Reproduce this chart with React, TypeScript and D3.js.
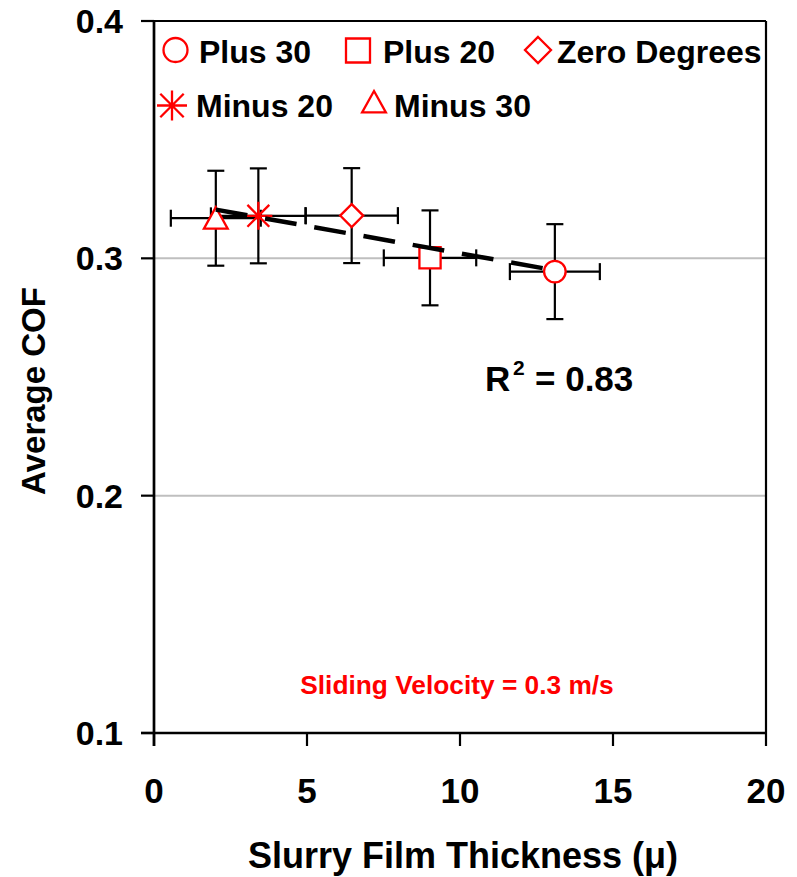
import React from 'react';
import * as d3 from 'd3';

// ---- data ----
const seriesNames = ['Plus 30', 'Plus 20', 'Zero Degrees', 'Minus 20', 'Minus 30'];
const seriesSymbols = ['circle', 'square', 'diamond', 'star', 'triangle'];
const thickness = [13.1, 9.02, 6.46, 3.41, 2.02];
const cof = [0.2944, 0.3002, 0.318, 0.3179, 0.3169];
const thicknessErr = [1.47, 1.51, 1.51, 1.55, 1.47];
const cofErr = [0.02, 0.02, 0.02, 0.02, 0.02];
const xTicks = [0, 5, 10, 15, 20];
const yTicks = [0.1, 0.2, 0.3, 0.4];
const gridTicks = [0.2, 0.3];
const rSquaredLabel = '0.83';
const noteLabel = 'Sliding Velocity = 0.3 m/s';
const xTitle = 'Slurry Film Thickness (\u03bc)';
const yTitle = 'Average COF';

// ---- layout ----
const W = 797;
const H = 877;
const PL = 154, PR = 766, PT = 21, PB = 733;
const FONT = '"Liberation Sans", Arial, Helvetica, sans-serif';
const RED = '#FF0000';

const x = d3.scaleLinear().domain([0, 20]).range([PL, PR]);
const y = d3.scaleLinear().domain([0.1, 0.4]).range([PB, PT]);

function markerPath(kind: string, s: number): string {
  const p = d3.path();
  if (kind === 'circle') {
    p.moveTo(s, 0);
    p.arc(0, 0, s, 0, Math.PI * 2);
    p.closePath();
  } else if (kind === 'square') {
    p.rect(-s, -s, 2 * s, 2 * s);
  } else if (kind === 'diamond') {
    p.moveTo(0, -s); p.lineTo(s, 0); p.lineTo(0, s); p.lineTo(-s, 0); p.closePath();
  } else if (kind === 'triangle') {
    p.moveTo(0, -s); p.lineTo(s * 1.08, s * 0.95); p.lineTo(-s * 1.08, s * 0.95); p.closePath();
  } else if (kind === 'star') {
    const d = s * 0.78;
    p.moveTo(0, -s); p.lineTo(0, s);
    p.moveTo(-s, 0); p.lineTo(s, 0);
    p.moveTo(-d, -d); p.lineTo(d, d);
    p.moveTo(-d, d); p.lineTo(d, -d);
  }
  return p.toString();
}

function Marker({ kind, cx, cy, s }: { kind: string; cx: number; cy: number; s: number }) {
  return (
    <path
      d={markerPath(kind, s)}
      transform={`translate(${cx},${cy})`}
      fill={kind === 'star' ? 'none' : '#fff'}
      stroke={RED}
      strokeWidth={2.3}
    />
  );
}

// least squares trend
const mx = d3.mean(thickness)!;
const my = d3.mean(cof)!;
const sxy = d3.sum(thickness.map((t, i) => (t - mx) * (cof[i] - my)));
const sxx = d3.sum(thickness.map((t) => (t - mx) ** 2));
const slope = sxy / sxx;
const intercept = my - slope * mx;
const [xmin, xmax] = d3.extent(thickness) as [number, number];
const trend = d3.line<number>().x((t) => x(t)).y((t) => y(intercept + slope * t))([xmin, xmax]);

const legendItems = [
  { i: 0, mx: 175.5, my: 50, tx: 199, ty: 62.5, s: 12 },
  { i: 1, mx: 358, my: 50.5, tx: 383, ty: 62.5, s: 12 },
  { i: 2, mx: 538, my: 50, tx: 557, ty: 62.5, s: 13 },
  { i: 3, mx: 172, my: 105.5, tx: 196, ty: 117, s: 15 },
  { i: 4, mx: 374, my: 102, tx: 394, ty: 117, s: 11 },
];

const dataSize: Record<string, number> = { circle: 10.8, square: 10.6, diamond: 11.5, star: 14, triangle: 11 };

export default function App() {
  const cap = 8.5;
  return (
    <svg width={W} height={H} style={{ position: 'absolute', left: 0, top: 0, background: '#fff' }} fontFamily={FONT}>
      <rect x={0} y={0} width={W} height={H} fill="#fff" />
      {/* grid */}
      {gridTicks.map((t) => (
        <line key={t} x1={PL} x2={PR} y1={y(t)} y2={y(t)} stroke="#BFBFBF" strokeWidth={2} />
      ))}
      {/* plot border top/right */}
      <line x1={PL} x2={PR} y1={PT} y2={PT} stroke="#000" strokeWidth={2.2} />
      <line x1={PR} x2={PR} y1={PT} y2={PB} stroke="#000" strokeWidth={2.2} />
      {/* axes */}
      <line x1={PL} x2={PL} y1={PT} y2={PB + 13} stroke="#000" strokeWidth={2.7} />
      <line x1={PL - 13} x2={PR} y1={PB} y2={PB} stroke="#000" strokeWidth={2.7} />
      {yTicks.map((t) => (
        <g key={t}>
          <line x1={PL - 13} x2={PL} y1={y(t)} y2={y(t)} stroke="#000" strokeWidth={2.2} />
          <text x={123} y={y(t) + 12} textAnchor="end" fontSize={34} fontWeight="bold">
            {t.toFixed(1)}
          </text>
        </g>
      ))}
      {xTicks.map((t) => (
        <g key={t}>
          <line x1={x(t)} x2={x(t)} y1={PB} y2={PB + 13} stroke="#000" strokeWidth={2.2} />
          <text x={x(t)} y={803} textAnchor="middle" fontSize={35} fontWeight="bold">
            {t}
          </text>
        </g>
      ))}
      {/* titles */}
      <text x={463} y={868} textAnchor="middle" fontSize={36} fontWeight="bold">{xTitle}</text>
      <text transform={`translate(45,${(PT + PB) / 2 + 14}) rotate(-90)`} textAnchor="middle" fontSize={33} fontWeight="bold">
        {yTitle}
      </text>
      {/* error bars */}
      {thickness.map((t, i) => {
        const cx = x(t), cy = y(cof[i]);
        const yl = y(cof[i] - cofErr[i]), yh = y(cof[i] + cofErr[i]);
        const xl = x(t - thicknessErr[i]), xh = x(t + thicknessErr[i]);
        return (
          <g key={i} stroke="#000" strokeWidth={2.2}>
            <line x1={cx} x2={cx} y1={yl} y2={yh} />
            <line x1={cx - cap} x2={cx + cap} y1={yl} y2={yl} />
            <line x1={cx - cap} x2={cx + cap} y1={yh} y2={yh} />
            <line x1={xl} x2={xh} y1={cy} y2={cy} />
            <line x1={xl} x2={xl} y1={cy - cap} y2={cy + cap} />
            <line x1={xh} x2={xh} y1={cy - cap} y2={cy + cap} />
          </g>
        );
      })}
      {/* markers */}
      {thickness.map((t, i) => (
        <Marker key={i} kind={seriesSymbols[i]} cx={x(t)} cy={y(cof[i])} s={dataSize[seriesSymbols[i]]} />
      ))}
      {/* trend line */}
      <path d={trend || ''} fill="none" stroke="#000" strokeWidth={4.5} strokeDasharray="32 18" />
      {/* R2 */}
      <text x={485} y={391} fontSize={35} fontWeight="bold">R</text>
      <text x={513} y={375} fontSize={21} fontWeight="bold">2</text>
      <text x={535} y={391} fontSize={35} fontWeight="bold">{`= ${rSquaredLabel}`}</text>
      {/* note */}
      <text x={457} y={694} textAnchor="middle" fontSize={26.3} fontWeight="bold" fill={RED}>{noteLabel}</text>
      {/* legend */}
      {legendItems.map((l) => (
        <g key={l.i}>
          <Marker kind={seriesSymbols[l.i]} cx={l.mx} cy={l.my} s={l.s} />
          <text x={l.tx} y={l.ty} fontSize={32} fontWeight="bold">{seriesNames[l.i]}</text>
        </g>
      ))}
    </svg>
  );
}
